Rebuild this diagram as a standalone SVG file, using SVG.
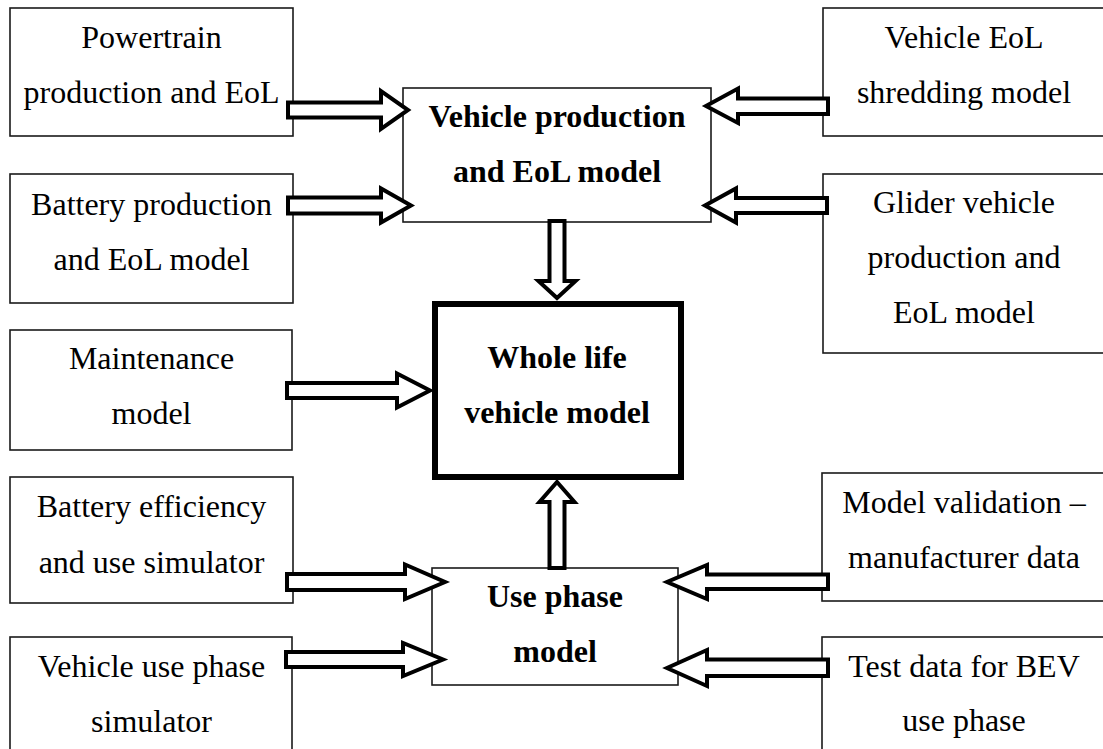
<svg xmlns="http://www.w3.org/2000/svg" width="1103" height="749" viewBox="0 0 1103 749">
<style>
.box{fill:#fff;stroke:#1a1a1a;stroke-width:1.6}
.main{fill:#fff;stroke:#000;stroke-width:6}
.arr{fill:#fff;stroke:#000;stroke-width:4;stroke-linejoin:miter}
text{font-family:"Liberation Serif","Times New Roman",serif;font-size:32px;fill:#000;text-anchor:middle}
.b{font-weight:bold}
</style>
<rect width="1103" height="749" fill="#fff"/>
<g id="powertrain"><rect class="box" x="10" y="8" width="283" height="128"/><text x="151.5" y="48">Powertrain</text><text x="151.5" y="103">production and EoL</text></g>
<g id="battery-production"><rect class="box" x="10" y="174" width="283" height="129"/><text x="151.5" y="215">Battery production</text><text x="151.5" y="270">and EoL model</text></g>
<g id="maintenance"><rect class="box" x="10" y="330" width="282" height="120"/><text x="151.5" y="369">Maintenance</text><text x="151.5" y="424">model</text></g>
<g id="battery-efficiency"><rect class="box" x="10" y="477" width="283" height="126"/><text x="151.5" y="517">Battery efficiency</text><text x="151.5" y="573">and use simulator</text></g>
<g id="vehicle-use-sim"><rect class="box" x="10" y="637" width="282" height="130"/><text x="151.5" y="677">Vehicle use phase</text><text x="151.5" y="732">simulator</text></g>
<g id="vehicle-eol"><rect class="box" x="823" y="8" width="300" height="128"/><text x="964" y="48">Vehicle EoL</text><text x="964" y="103">shredding model</text></g>
<g id="glider"><rect class="box" x="823" y="174" width="300" height="179"/><text x="964" y="213">Glider vehicle</text><text x="964" y="268">production and</text><text x="964" y="323">EoL model</text></g>
<g id="model-validation"><rect class="box" x="822" y="473" width="300" height="128"/><text x="964" y="513">Model validation –</text><text x="964" y="568">manufacturer data</text></g>
<g id="test-data"><rect class="box" x="822" y="637" width="300" height="130"/><text x="964" y="677">Test data for BEV</text><text x="964" y="731">use phase</text></g>
<g id="vehicle-production"><rect class="box" x="403" y="88" width="308" height="134"/><text class="b" x="557" y="127">Vehicle production</text><text class="b" x="557" y="182">and EoL model</text></g>
<g id="whole-life"><rect class="main" x="435" y="304" width="246" height="173"/><text class="b" x="557" y="368">Whole life</text><text class="b" x="557" y="423">vehicle model</text></g>
<g id="use-phase"><rect class="box" x="432" y="568" width="246" height="117"/><text class="b" x="555" y="607">Use phase</text><text class="b" x="555" y="662">model</text></g>
<g id="connectors">
<polygon class="arr" points="288,102.5 381,102.5 381,91 408,110 381,129 381,117.5 288,117.5"/>
<polygon class="arr" points="288,197.5 381,197.5 381,188.5 411,205.5 381,222.5 381,213.5 288,213.5"/>
<polygon class="arr" points="287,383 397,383 397,373.5 430,390.5 397,407.5 397,398 287,398"/>
<polygon class="arr" points="287,574 405,574 405,564.5 445,582 405,599 405,590 287,590"/>
<polygon class="arr" points="286,652 403,652 403,643 443,659.5 403,676 403,667 286,667"/>
<polygon class="arr" points="828,98.5 738,98.5 738,88.5 706,106 738,123 738,114 828,114"/>
<polygon class="arr" points="827,198 736,198 736,188.5 705,205.5 736,222.5 736,213 827,213"/>
<polygon class="arr" points="828,574.5 707,574.5 707,565 667,582 707,599 707,589 828,589"/>
<polygon class="arr" points="828,659.5 707,659.5 707,650 667,668 707,686 707,676 828,676"/>
<polygon class="arr" points="549.5,221 549.5,281 538.5,281 557,298 575.5,281 564.5,281 564.5,221"/>
<polygon class="arr" points="549.5,568 549.5,502 539.5,502 557,482 574.5,502 564.5,502 564.5,568"/>
</g>
</svg>
